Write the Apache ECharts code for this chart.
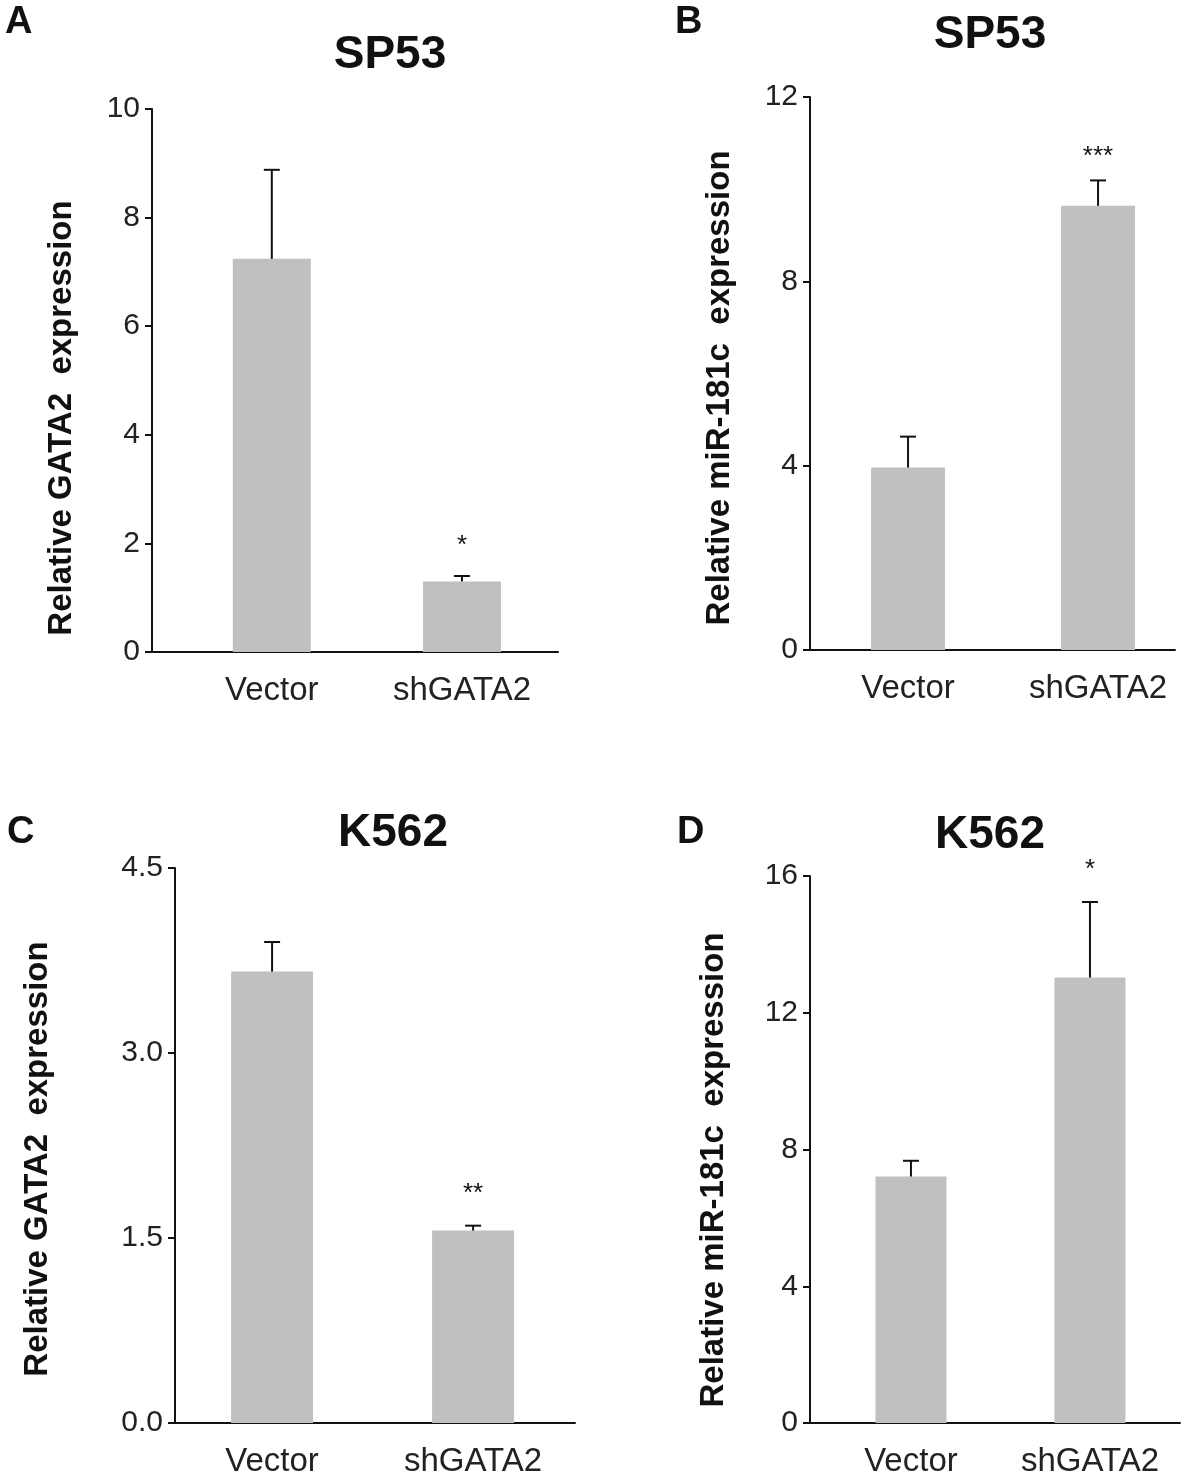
<!DOCTYPE html>
<html><head><meta charset="utf-8">
<script src="https://cdn.jsdelivr.net/npm/echarts@6/dist/echarts.min.js"></script>
<style>html,body{margin:0;padding:0;background:#fff}#c{width:1200px;height:1484px}</style>
</head><body><div id="c"></div>
<script>
const categories = ['Vector', 'shGATA2'];

const aMean = [7.24, 1.30];
const aErr  = [1.64, 0.10];
const aSig  = ['', '*'];
const aTicks = [0, 10, 2];

const bMean = [3.96, 9.64];
const bErr  = [0.67, 0.55];
const bSig  = ['', '***'];
const bTicks = [0, 12, 4];

const cMean = [3.66, 1.56];
const cErr  = [0.24, 0.04];
const cSig  = ['', '**'];
const cTicks = [0, 4.5, 1.5];

const dMean = [7.21, 13.03];
const dErr  = [0.46, 2.21];
const dSig  = ['', '*'];
const dTicks = [0, 16, 4];

const FONT = '"Liberation Sans", Arial, sans-serif';

const panels = [
  {letter:'A', title:'SP53', yName:'Relative GATA2  expression', mean:aMean, err:aErr, sig:aSig, ticks:aTicks, dec:0,
   grid:{left:152, top:109, width:406, height:543}, xmin:-0.63, xmax:1.505, barW:78,
   titleX:385, titleY:50, letterX:0, letterY:18, nameX:62, nameY:418, sigOff:30},
  {letter:'B', title:'SP53', yName:'Relative miR-181c  expression', mean:bMean, err:bErr, sig:bSig, ticks:bTicks, dec:0,
   grid:{left:810, top:97, width:365, height:553}, xmin:-0.516, xmax:1.405, barW:74,
   titleX:985, titleY:30, letterX:670, letterY:18, nameX:720, nameY:388, sigOff:24},
  {letter:'C', title:'K562', yName:'Relative GATA2  expression', mean:cMean, err:cErr, sig:cSig, ticks:cTicks, dec:1,
   grid:{left:175, top:868, width:400, height:555}, xmin:-0.483, xmax:1.507, barW:82,
   titleX:388, titleY:828, letterX:2, letterY:828, nameX:38, nameY:1159, sigOff:32},
  {letter:'D', title:'K562', yName:'Relative miR-181c  expression', mean:dMean, err:dErr, sig:dSig, ticks:dTicks, dec:0,
   grid:{left:810, top:876, width:370, height:547}, xmin:-0.564, xmax:1.503, barW:71,
   titleX:985, titleY:830, letterX:672, letterY:828, nameX:714, nameY:1170, sigOff:32}
];

const chart = echarts.init(document.getElementById('c'));

const grids = [], xAxes = [], yAxes = [], series = [], titles = [], graphics = [];
panels.forEach((p, i) => {
  grids.push(Object.assign({containLabel:false}, p.grid));
  titles.push({text:p.title, left:p.titleX, top:p.titleY, textAlign:'center', textVerticalAlign:'middle',
    textStyle:{fontFamily:FONT, fontWeight:'bold', fontSize:46, color:'#111'}});
  titles.push({text:p.letter, left:p.letterX, top:p.letterY, textVerticalAlign:'middle',
    textStyle:{fontFamily:FONT, fontWeight:'bold', fontSize:38, color:'#111'}});
  graphics.push({type:'text', x:p.nameX, y:p.nameY, rotation:Math.PI/2,
    style:{text:p.yName, align:'center', verticalAlign:'middle', font:'bold 33px ' + FONT, fill:'#111'}});
  xAxes.push({type:'value', gridIndex:i, min:p.xmin, max:p.xmax,
    axisLine:{show:true, onZero:false, lineStyle:{color:'#111', width:2}},
    axisTick:{show:false}, splitLine:{show:false},
    axisLabel:{customValues:[0,1], formatter:(v)=>categories[Math.round(v)] || '', fontFamily:FONT, fontSize:33, color:'#222', margin:22}
  });
  yAxes.push({type:'value', gridIndex:i, min:p.ticks[0], max:p.ticks[1], interval:p.ticks[2],
    axisLine:{show:true, onZero:false, lineStyle:{color:'#111', width:2}},
    axisTick:{show:true, inside:false, length:7, lineStyle:{color:'#111', width:2}},
    splitLine:{show:false},
    axisLabel:{fontFamily:FONT, fontSize:30, color:'#222', margin:12, formatter:(v)=>v.toFixed(p.dec)}
  });
  series.push({type:'bar', xAxisIndex:i, yAxisIndex:i, barWidth:p.barW,
    itemStyle:{color:'#c0c0c0'}, data:p.mean.map((m, k)=>[k, m]), z:2});
  series.push({type:'custom', xAxisIndex:i, yAxisIndex:i, z:5,
    data:p.mean.map((m, k)=>[k, m, p.err[k], k]),
    renderItem:(params, api)=>{
      const x = api.value(0), v = api.value(1), e = api.value(2), k = api.value(3);
      const p0 = api.coord([x, v]), p1 = api.coord([x, v + e]);
      const children = [
        {type:'line', shape:{x1:p0[0], y1:p0[1], x2:p1[0], y2:p1[1]}, style:{stroke:'#111', lineWidth:2}},
        {type:'line', shape:{x1:p1[0]-8, y1:p1[1], x2:p1[0]+8, y2:p1[1]}, style:{stroke:'#111', lineWidth:2}}
      ];
      const s = p.sig[k];
      if (s) children.push({type:'text', style:{text:s, x:p1[0], y:p1[1]-p.sigOff, align:'center', verticalAlign:'middle',
        font:'26px ' + FONT, fill:'#111'}});
      return {type:'group', children};
    }
  });
});

chart.setOption({animation:false, backgroundColor:'#fff', title:titles, graphic:graphics, grid:grids, xAxis:xAxes, yAxis:yAxes, series});
</script></body></html>
